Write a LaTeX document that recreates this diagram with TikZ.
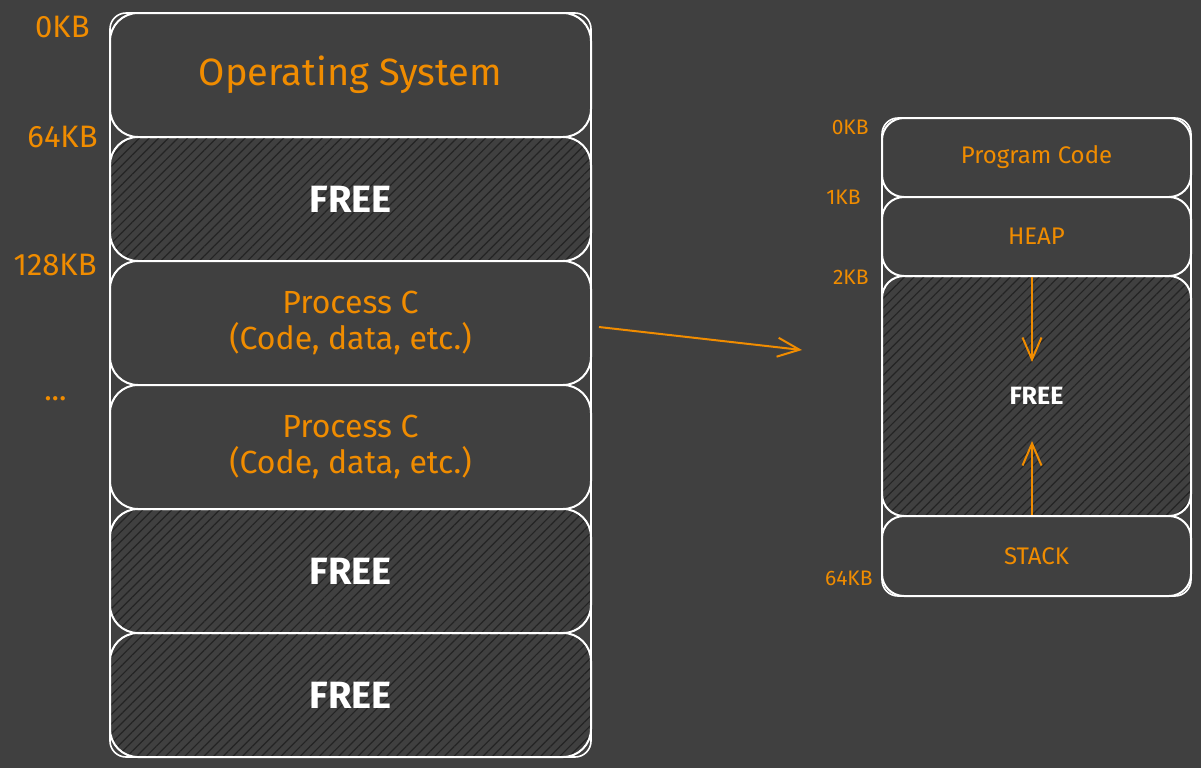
\documentclass[tikz,border=0pt]{standalone}
\usepackage{fontspec}
\setmainfont{Fira Sans}
\usetikzlibrary{%
  arrows.meta,%
  patterns.meta,%
}
\definecolor{bg}{HTML}{404040}
\definecolor{hatch}{HTML}{242424}
\definecolor{amber}{HTML}{F08C00}

\begin{document}
\begin{tikzpicture}[x=0.5pt, y=-0.5pt,
    >={Straight Barb[length=11pt, width=9.5pt]},
    frame/.style={draw=white, line width=0.8pt, rounded corners=8pt},
    slot/.style={draw=white, line width=1pt, fill=bg, inner sep=0pt, align=center},
    bigslot/.style={slot, rounded corners=14pt, minimum width=240.5pt, minimum height=62pt},
    smallslot/.style={slot, rounded corners=11pt, minimum width=154.5pt},
    freeslot/.style={pattern={Lines[angle=45, distance=3.4pt, line width=0.6pt]}, pattern color=hatch},
    bigtext/.style={text=amber, font=\fontsize{16}{18}\selectfont},
    bigfree/.style={text=white, font=\fontsize{19}{22}\selectfont\bfseries},
    smalltext/.style={text=amber, font=\fontsize{12}{14}\selectfont},
    addr/.style={text=amber, anchor=east, inner sep=0pt, font=\fontsize{15.5}{17}\selectfont},
    smalladdr/.style={text=amber, anchor=east, inner sep=0pt, font=\fontsize{10.5}{12}\selectfont},
    flow/.style={->, draw=amber, line width=1pt},
  ]

      \fill [bg] (0, 0) rectangle (1201, 768);
      \useasboundingbox (0, 0) rectangle (1201, 768);

      % main memory
      \draw [frame] (110, 13) rectangle (591, 757);
      \node [bigslot] (os) at (350.5, 75)
        {\fontsize{19}{22}\selectfont\color{amber}Operating System};
      \node [bigslot, freeslot, bigfree] (free1) at (350.5, 199) {FREE};
      \node [bigslot, bigtext] (procC1) at (350.5, 323)
        {Process C\\(Code, data, etc.)};
      \node [bigslot, bigtext] (procC2) at (350.5, 447)
        {Process C\\(Code, data, etc.)};
      \node [bigslot, freeslot, bigfree] (free2) at (350.5, 571) {FREE};
      \node [bigslot, freeslot, bigfree] (free3) at (350.5, 695) {FREE};

      \node [addr] (kb0) at (90, 27) {0KB};
      \node [addr] (kb64) at (98, 137) {64KB};
      \node [addr] (kb128) at (97, 265) {128KB};
      \node [addr] (dots) at (67, 399) {...};

      % process address space
      \draw [frame] (882, 118) rectangle (1191, 596);
      \node [smallslot, smalltext, minimum height=39.5pt] (code) at (1036.5, 157.5)
        {Program Code};
      \node [smallslot, smalltext, minimum height=39.5pt] (heap) at (1036.5, 236.5)
        {HEAP};
      \node [smallslot, freeslot, minimum height=120pt, text=white,
        font=\fontsize{12.5}{14}\selectfont\bfseries] (gap) at (1036.5, 396) {FREE};
      \node [smallslot, smalltext, minimum height=40pt] (stack) at (1036.5, 556)
        {STACK};

      \node [smalladdr] (pkb0) at (869, 127) {0KB};
      \node [smalladdr] (pkb1) at (861, 197) {1KB};
      \node [smalladdr] (pkb2) at (869, 277) {2KB};
      \node [smalladdr] (pkb64) at (873, 578) {64KB};

      % arrows
      \coordinate (zoomtip) at (802, 350);
      \coordinate (heaptip) at (1032, 362);
      \coordinate (stacktip) at (1032, 441);
      \draw [flow] ([shift={(3.5pt, -2pt)}]procC1.east) -- (zoomtip);
      \draw [flow] (heap.south -| heaptip) -- (heaptip);
      \draw [flow] (stack.north -| stacktip) -- (stacktip);

\end{tikzpicture}
\end{document}
